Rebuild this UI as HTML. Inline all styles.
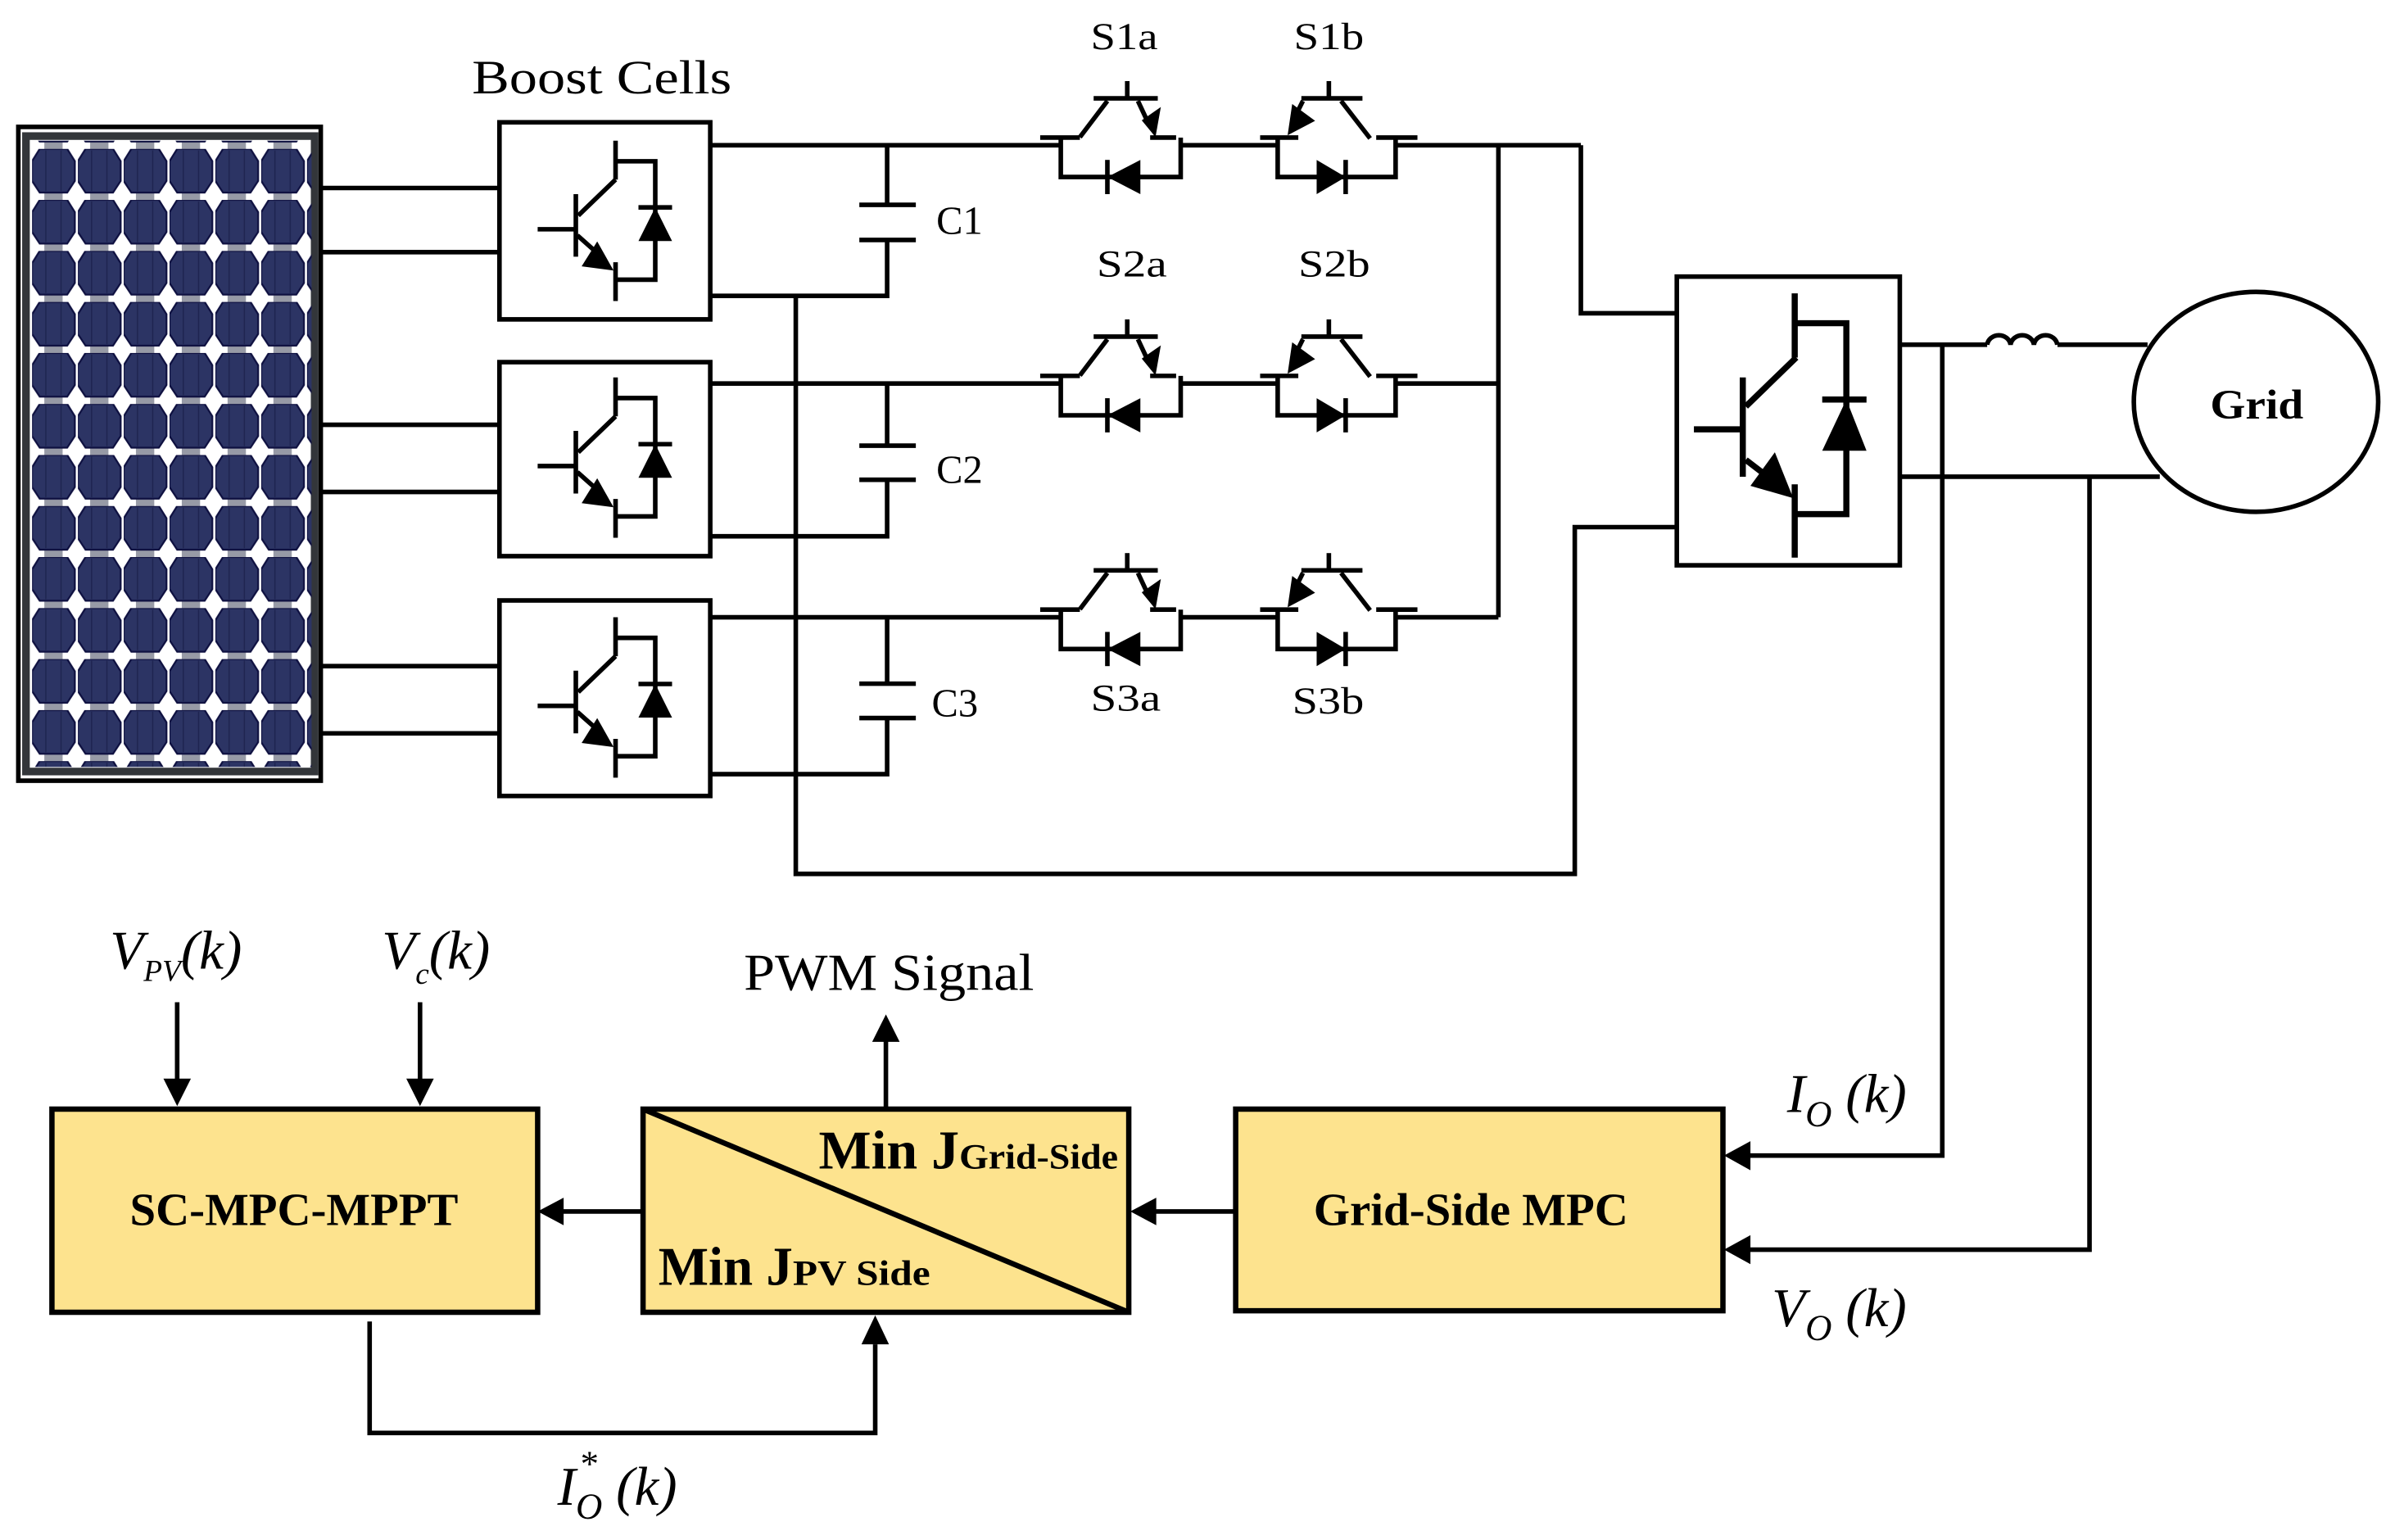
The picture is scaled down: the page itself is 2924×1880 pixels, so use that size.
<!DOCTYPE html>
<html><head><meta charset="utf-8"><style>
html,body{margin:0;padding:0;background:#fff;}
svg{display:block;}
</style></head><body>
<svg xmlns="http://www.w3.org/2000/svg" width="2924" height="1880" viewBox="0 0 1568 1008">
<defs>
<pattern id="cells" x="21" y="97.4" width="30" height="33.4" patternUnits="userSpaceOnUse">
  <rect x="8" y="-6" width="12" height="7" fill="#979aa6"/>
  <rect x="8" y="28" width="12" height="6" fill="#979aa6"/>
  <polygon points="5,0 23,0 28,8 28,21 23,28.6 5,28.6 0,21 0,8" fill="#2c3464" stroke="#0e1040" stroke-width="1.2"/>
  <line x1="9" y1="1" x2="9" y2="27.6" stroke="#1e2450" stroke-width="0.8"/>
  <line x1="19" y1="1" x2="19" y2="27.6" stroke="#1e2450" stroke-width="0.8"/>
</pattern>
<g id="bigbt" fill="none" stroke="#000" stroke-width="3">
  <line x1="26" y1="71" x2="51" y2="71"/>
  <line x1="51" y1="48" x2="51" y2="89"/>
  <line x1="52.6" y1="62" x2="77" y2="38.5"/>
  <line x1="77" y1="13" x2="77" y2="38.5"/>
  <polyline points="77,26.5 103,26.5 103,104 77,104"/>
  <line x1="77" y1="92.6" x2="77" y2="118"/>
  <line x1="52" y1="75" x2="70" y2="91"/>
  <polygon points="75.7,98 65,79 54.8,95.3" fill="#000" stroke="none"/>
  <line x1="92" y1="56.7" x2="114" y2="56.7"/>
  <polygon points="103,56.7 92,78.7 114,78.7" fill="#000" stroke="none"/>
</g>
<g id="sa" fill="none" stroke="#000" stroke-width="3">
  <line x1="-57" y1="-5" x2="-31" y2="-5"/>
  <line x1="-22" y1="-30.7" x2="20" y2="-30.7"/>
  <line x1="0" y1="-42" x2="0" y2="-30.7"/>
  <line x1="-13" y1="-29" x2="-31" y2="-5.3"/>
  <line x1="7" y1="-29" x2="14" y2="-14"/>
  <polygon points="18.5,-5.3 9.5,-16.3 22,-25" fill="#000" stroke="none"/>
  <line x1="15" y1="-5" x2="32" y2="-5"/>
  <polyline points="-43.5,-5 -43.5,20.8 35,20.8 35,-5"/>
  <line x1="-13" y1="9.6" x2="-13" y2="32"/>
  <polygon points="-13,20.8 8.6,9.6 8.6,32" fill="#000" stroke="none"/>
</g>
<g id="sb" fill="none" stroke="#000" stroke-width="3">
  <line x1="-45" y1="-5" x2="-20" y2="-5"/>
  <line x1="-18" y1="-30.7" x2="22" y2="-30.7"/>
  <line x1="0" y1="-42" x2="0" y2="-30.7"/>
  <line x1="-17" y1="-29" x2="-23" y2="-17"/>
  <polygon points="-27,-6.5 -24,-27 -9,-16" fill="#000" stroke="none"/>
  <line x1="8" y1="-29" x2="27" y2="-4.5"/>
  <line x1="31" y1="-5" x2="58" y2="-5"/>
  <polyline points="-33.5,-5 -33.5,20.8 43.7,20.8 43.7,-5"/>
  <line x1="11" y1="9.6" x2="11" y2="32"/>
  <polygon points="11,20.8 -8,9.6 -8,32" fill="#000" stroke="none"/>
</g>
</defs>

<rect x="12" y="83" width="198" height="428" fill="#fff" stroke="#000" stroke-width="3"/>
<rect x="17" y="89" width="189" height="416" fill="#fff" stroke="#33363a" stroke-width="5"/>
<rect x="20" y="92" width="184" height="410" fill="url(#cells)"/>

<g stroke="#000" stroke-width="3" fill="none">
<line x1="210" y1="123" x2="326" y2="123"/>
<line x1="210" y1="165" x2="326" y2="165"/>
<line x1="210" y1="278" x2="326" y2="278"/>
<line x1="210" y1="322" x2="326" y2="322"/>
<line x1="210" y1="436" x2="326" y2="436"/>
<line x1="210" y1="480" x2="326" y2="480"/>
</g>

<g stroke="#000" stroke-width="3" fill="#fff">
<rect x="327" y="80" width="138" height="129"/>
<rect x="327" y="237" width="138" height="127"/>
<rect x="327" y="393" width="138" height="128"/>
</g>
<use href="#bigbt" x="326" y="79"/>
<use href="#bigbt" x="326" y="234"/>
<use href="#bigbt" x="326" y="391"/>

<g stroke="#000" stroke-width="3" fill="none">
<line x1="465" y1="95" x2="695" y2="95"/>
<line x1="465" y1="251" x2="695" y2="251"/>
<line x1="465" y1="404" x2="695" y2="404"/>
<polyline points="580.8,95 580.8,134"/>
<polyline points="465,193.6 580.8,193.6 580.8,157"/>
<polyline points="580.8,251 580.8,291.7"/>
<polyline points="465,351 580.8,351 580.8,314"/>
<polyline points="580.8,404 580.8,447.5"/>
<polyline points="465,506.7 580.8,506.7 580.8,470"/>
<line x1="562.6" y1="134" x2="599.6" y2="134"/>
<line x1="562.6" y1="157" x2="599.6" y2="157"/>
<line x1="562.6" y1="291.7" x2="599.6" y2="291.7"/>
<line x1="562.6" y1="314" x2="599.6" y2="314"/>
<line x1="562.6" y1="447.5" x2="599.6" y2="447.5"/>
<line x1="562.6" y1="470" x2="599.6" y2="470"/>
<polyline points="521,193.6 521,572 1031,572 1031,345 1097,345"/>
<line x1="773" y1="95" x2="836.5" y2="95"/>
<line x1="773" y1="251" x2="836.5" y2="251"/>
<line x1="773" y1="404" x2="836.5" y2="404"/>
<line x1="913.7" y1="95" x2="1035" y2="95"/>
<line x1="913.7" y1="251" x2="981" y2="251"/>
<line x1="913.7" y1="404" x2="981" y2="404"/>
<line x1="981" y1="95" x2="981" y2="404"/>
<polyline points="1035,95 1035,205 1097,205"/>
</g>
<use href="#sa" x="738" y="95"/>
<use href="#sb" x="870" y="95"/>
<use href="#sa" x="738" y="251"/>
<use href="#sb" x="870" y="251"/>
<use href="#sa" x="738" y="404"/>
<use href="#sb" x="870" y="404"/>

<rect x="1097.8" y="181" width="146" height="189" fill="#fff" stroke="#000" stroke-width="3"/>
<g stroke="#000" stroke-width="4" fill="none">
<line x1="1109" y1="281" x2="1141" y2="281"/>
<line x1="1141" y1="247" x2="1141" y2="312"/>
<line x1="1143" y1="266" x2="1176" y2="234"/>
<line x1="1175" y1="192" x2="1175" y2="234"/>
<polyline points="1175,211.5 1208.8,211.5 1208.8,336.5 1175,336.5"/>
<line x1="1175" y1="317" x2="1175" y2="365"/>
<line x1="1143" y1="301" x2="1160" y2="314"/>
<line x1="1193" y1="261.5" x2="1222" y2="261.5"/>
</g>
<polygon points="1174,326 1162,296 1146,318" fill="#000"/>
<polygon points="1208.8,261.5 1193,295 1222,295" fill="#000"/>

<g stroke="#000" stroke-width="3" fill="none">
<line x1="1244" y1="225.6" x2="1301" y2="225.6"/>
<path d="M1301,225.6 a7.7,7 0 0 1 15.3,0 a7.7,7 0 0 1 15.3,0 a7.7,7 0 0 1 15.3,0"/>
<line x1="1347" y1="225.6" x2="1406" y2="225.6"/>
<line x1="1244" y1="312" x2="1414" y2="312"/>
<ellipse cx="1477" cy="263" rx="80" ry="72"/>
<polyline points="1271.6,225.6 1271.6,756.4 1138,756.4"/>
<polyline points="1368,312 1368,818 1138,818"/>
</g>
<polygon points="1128.7,756.4 1146,747 1146,766" fill="#000"/>
<polygon points="1128.7,818 1146,808.5 1146,827.5" fill="#000"/>

<g stroke="#000" stroke-width="3.5" fill="#fde38e">
<rect x="34" y="726" width="318" height="133"/>
<rect x="421" y="726" width="318" height="133"/>
<rect x="809" y="726" width="319" height="132"/>
</g>
<line x1="421" y1="726" x2="739" y2="859" stroke="#000" stroke-width="3.5"/>
<g stroke="#000" stroke-width="3" fill="none">
<line x1="809" y1="793" x2="755" y2="793"/>
<line x1="421" y1="793" x2="367" y2="793"/>
<line x1="580" y1="726" x2="580" y2="680"/>
<line x1="116" y1="656" x2="116" y2="710"/>
<line x1="275" y1="656" x2="275" y2="710"/>
<polyline points="242,865 242,938 573,938 573,880"/>
</g>
<polygon points="740,793 757,784 757,802" fill="#000"/>
<polygon points="352,793 369,784 369,802" fill="#000"/>
<polygon points="580,664 571,682 589,682" fill="#000"/>
<polygon points="116,724 107,706 125,706" fill="#000"/>
<polygon points="275,724 266,706 284,706" fill="#000"/>
<polygon points="573,861 564,880 582,880" fill="#000"/>

<g font-family="'Liberation Serif', serif" fill="#000">
<text x="309" y="61" font-size="31" textLength="170" lengthAdjust="spacingAndGlyphs">Boost Cells</text>
<text x="714" y="32" font-size="25" textLength="44" lengthAdjust="spacingAndGlyphs">S1a</text>
<text x="847" y="32" font-size="25" textLength="46" lengthAdjust="spacingAndGlyphs">S1b</text>
<text x="718" y="181" font-size="25" textLength="46" lengthAdjust="spacingAndGlyphs">S2a</text>
<text x="850" y="181" font-size="25" textLength="47" lengthAdjust="spacingAndGlyphs">S2b</text>
<text x="714" y="465" font-size="25" textLength="46" lengthAdjust="spacingAndGlyphs">S3a</text>
<text x="846" y="467" font-size="25" textLength="47" lengthAdjust="spacingAndGlyphs">S3b</text>
<text x="613" y="153" font-size="26">C1</text>
<text x="613" y="316" font-size="26">C2</text>
<text x="610" y="469" font-size="26">C3</text>
<text x="1447" y="274" font-size="27" font-weight="bold" textLength="61" lengthAdjust="spacingAndGlyphs">Grid</text>
<text x="487" y="648" font-size="34" textLength="190" lengthAdjust="spacingAndGlyphs">PWM Signal</text>
<text x="85" y="802" font-size="30" font-weight="bold" textLength="215" lengthAdjust="spacingAndGlyphs">SC-MPC-MPPT</text>
<text x="860" y="802" font-size="30" font-weight="bold" textLength="206" lengthAdjust="spacingAndGlyphs">Grid-Side MPC</text>
<text x="536" y="765" font-size="36" font-weight="bold" textLength="92" lengthAdjust="spacingAndGlyphs">Min J</text>
<text x="628" y="765" font-size="23" font-weight="bold" textLength="104" lengthAdjust="spacingAndGlyphs">Grid-Side</text>
<text x="431" y="841" font-size="36" font-weight="bold" textLength="88" lengthAdjust="spacingAndGlyphs">Min J</text>
<text x="519" y="841" font-size="23" font-weight="bold" textLength="90" lengthAdjust="spacingAndGlyphs">PV Side</text>
<g font-style="italic" font-size="36">
<text x="72" y="634">V<tspan font-size="20" dy="8">PV</tspan><tspan dy="-8">(k)</tspan></text>
<text x="250" y="634">V<tspan font-size="20" dy="10">c</tspan><tspan dy="-10">(k)</tspan></text>
<text x="1170" y="728">I<tspan font-size="24" dy="9">O</tspan><tspan dy="-9"> (k)</tspan></text>
<text x="1160" y="868">V<tspan font-size="24" dy="9">O</tspan><tspan dy="-9"> (k)</tspan></text>
<text x="365" y="985">I<tspan font-size="24" dy="9">O</tspan><tspan dy="-9"> (k)</tspan></text>
<text x="380" y="966" font-size="24" font-style="normal">*</text>
</g>
</g>
</svg>
</body></html>
